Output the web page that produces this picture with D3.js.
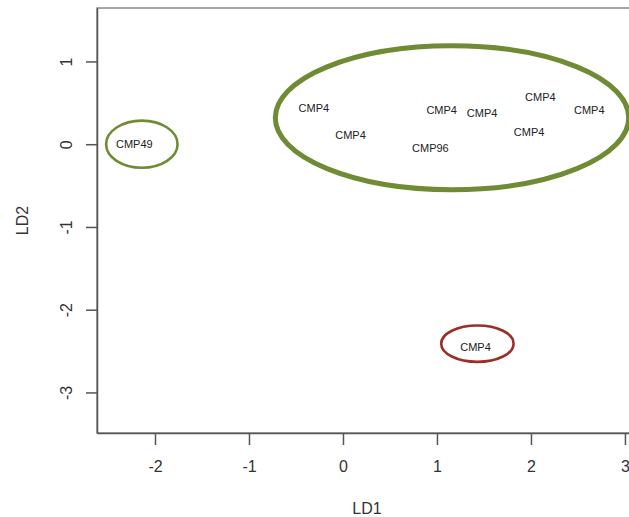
<!DOCTYPE html>
<html>
<head>
<meta charset="utf-8">
<script src="https://cdn.jsdelivr.net/npm/d3@7"></script>
<style>
  body { margin: 0; background: #fff; }
  text { font-family: "Liberation Sans", Arial, Helvetica, sans-serif; }
</style>
</head>
<body>
<svg width="629" height="517"></svg>
<script>
var svg = d3.select("svg");

// point labels (LD1, LD2)
var labels = ["CMP4", "CMP4", "CMP4", "CMP4", "CMP4", "CMP4", "CMP4", "CMP96", "CMP49", "CMP4"];
var ld1 = [-0.31, 0.08, 1.05, 1.48, 2.10, 2.62, 1.98, 0.93, -2.22, 1.41];
var ld2 = [0.43, 0.11, 0.41, 0.37, 0.57, 0.41, 0.14, -0.05, 0.0, -2.45];

// group ellipses drawn over the plot
var ringCx = [1.16, -2.14, 1.43];
var ringCy = [0.32, 0.0, -2.41];
var ringRx = [1.88, 0.38, 0.385];
var ringRy = [0.87, 0.285, 0.22];
var ringColor = ["#6f8c34", "#6f8c34", "#9a2f2a"];
var ringWidth = [5, 2.6, 2.6];

var xTicks = [-2, -1, 0, 1, 2, 3];
var yTicks = [-3, -2, -1, 0, 1];

var x = d3.scaleLinear().domain([-2.617, 3.043]).range([97, 629]);
var y = d3.scaleLinear().domain([-3.49, 1.646]).range([433, 8]);
var boxRight = 637;

// plot box
svg.append("rect")
    .attr("x", x.range()[0])
    .attr("y", y.range()[1])
    .attr("width", boxRight - x.range()[0])
    .attr("height", y.range()[0] - y.range()[1])
    .attr("fill", "none")
    .attr("stroke", "#777")
    .attr("stroke-width", 1.3);

var fmt = function(d) { return String(d); };

var xAxis = svg.append("g")
    .attr("transform", "translate(0," + y.range()[0] + ")")
    .call(d3.axisBottom(x).tickValues(xTicks).tickSize(12).tickSizeOuter(0).tickFormat(fmt));

var yAxis = svg.append("g")
    .attr("transform", "translate(" + x.range()[0] + ",0)")
    .call(d3.axisLeft(y).tickValues(yTicks).tickSize(11).tickSizeOuter(0).tickFormat(fmt));

[xAxis, yAxis].forEach(function(a) {
  a.select(".domain").attr("stroke", "#555").attr("stroke-width", 1.5);
  a.selectAll(".tick line").attr("stroke", "#555").attr("stroke-width", 1.5);
  a.selectAll(".tick text")
      .attr("fill", "#333")
      .style("font-size", "16px")
      .style("font-family", "'Liberation Sans', Arial, sans-serif");
});

xAxis.selectAll(".tick text")
    .attr("y", 39)
    .attr("dy", null);

// rotated y tick labels like R's default
yAxis.selectAll(".tick text")
    .attr("x", null)
    .attr("text-anchor", "middle")
    .attr("transform", "translate(-31,0) rotate(-90)")
    .attr("dy", "0.35em");

svg.append("text")
    .attr("x", (x.range()[0] + boxRight) / 2)
    .attr("y", 514)
    .attr("text-anchor", "middle")
    .attr("fill", "#333")
    .style("font-size", "16px")
    .text("LD1");

svg.append("text")
    .attr("transform", "translate(22," + (y.range()[0] + y.range()[1]) / 2 + ") rotate(-90)")
    .attr("text-anchor", "middle")
    .attr("dy", "0.35em")
    .attr("fill", "#333")
    .style("font-size", "16px")
    .text("LD2");

svg.append("g").selectAll("text")
    .data(labels)
    .enter().append("text")
      .attr("x", function(d, i) { return x(ld1[i]); })
      .attr("y", function(d, i) { return y(ld2[i]); })
      .attr("dy", "0.35em")
      .attr("text-anchor", "middle")
      .attr("fill", "#222")
      .style("font-size", "11px")
      .text(function(d) { return d; });

svg.append("g").selectAll("ellipse")
    .data(ringCx)
    .enter().append("ellipse")
      .attr("cx", function(d) { return x(d); })
      .attr("cy", function(d, i) { return y(ringCy[i]); })
      .attr("rx", function(d, i) { return x(ringRx[i]) - x(0); })
      .attr("ry", function(d, i) { return y(0) - y(ringRy[i]); })
      .attr("fill", "none")
      .attr("stroke", function(d, i) { return ringColor[i]; })
      .attr("stroke-width", function(d, i) { return ringWidth[i]; });
</script>
</body>
</html>
